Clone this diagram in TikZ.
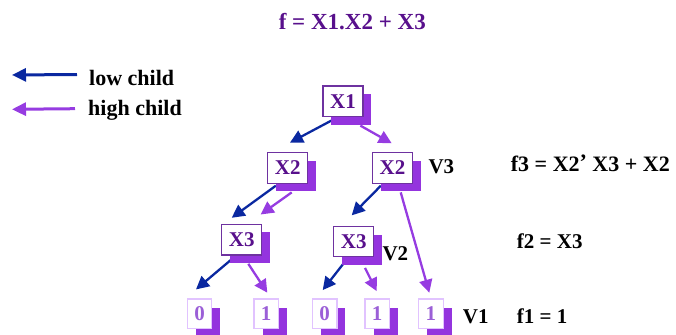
\documentclass[tikz,border=0pt]{standalone}
\usepackage{fontspec}
\setmainfont{Liberation Serif}
\usetikzlibrary{arrows.meta,shadows,calc}
\definecolor{txtpurple}{RGB}{88,16,140}
\definecolor{boxborder}{RGB}{110,50,160}
\definecolor{shadowpurple}{RGB}{148,52,222}
\definecolor{higharrow}{RGB}{150,60,225}
\definecolor{lowarrow}{RGB}{10,40,160}
\definecolor{leafborder}{RGB}{225,195,255}
\definecolor{leaftext}{RGB}{155,95,215}
\pgfdeclarelayer{bg}
\pgfsetlayers{bg,main}
\tikzset{
  varbox/.style={draw=boxborder, line width=1.3pt, fill=white, inner sep=0pt,
    minimum width=40pt, minimum height=30.7pt, text=txtpurple,
    font=\fontsize{21}{22}\selectfont\bfseries,
    drop shadow={shadow xshift=8pt, shadow yshift=-8pt, fill=shadowpurple, opacity=1}},
  leafbox/.style={draw=leafborder, line width=1.3pt, fill=white, inner sep=0pt,
    minimum width=24.4pt, minimum height=29.3pt, text=leaftext,
    font=\fontsize{21}{22}\selectfont\bfseries,
    drop shadow={shadow xshift=8.5pt, shadow yshift=-8.5pt, fill=shadowpurple, opacity=1}},
  lbl/.style={anchor=base west, inner sep=0pt, text=black, font=\fontsize{21}{22}\selectfont\bfseries},
  lowedge/.style={draw=lowarrow, line width=2.3pt, -{Triangle[length=13pt,width=13pt]}},
  highedge/.style={draw=higharrow, line width=2.3pt, -{Triangle[length=13pt,width=13pt]}},
  legendline/.style={line width=3pt, -{Triangle[length=14pt,width=13pt]}},
}
\begin{document}
\begin{tikzpicture}[x=1pt,y=-1pt]
\useasboundingbox (0,0) rectangle (676,334);
% title
\node[anchor=base, inner sep=0pt, text=txtpurple, font=\fontsize{23}{24}\selectfont\bfseries] (title) at (352.3,29.3) {f = X1.X2 + X3};
% legend
\node[lbl, font=\fontsize{22}{24}\selectfont\bfseries] (lowlbl) at (89,85) {low child};
\node[lbl, font=\fontsize{22}{24}\selectfont\bfseries] (highlbl) at (88,115) {high child};
\coordinate (lowtail) at (77,74.5);
\coordinate (lowtip) at (12,75);
\coordinate (hightail) at (75,108.7);
\coordinate (hightip) at (12,109.3);
\draw[lowedge, legendline] (lowtail) -- (lowtip);
\draw[highedge, legendline] (hightail) -- (hightip);
% nodes
\node[varbox] (X1) at (343,101.3) {X1};
\node[varbox] (X2L) at (287.8,168) {X2};
\node[varbox] (X2R) at (392.5,168) {X2};
\node[varbox] (X3L) at (241.7,239.5) {X3};
\node[varbox, minimum height=30pt] (X3R) at (353.7,241.7) {X3};
\node[leafbox] (L0a) at (199.5,313.7) {0};
\node[leafbox] (L1a) at (266.2,313.7) {1};
\node[leafbox] (L0b) at (324.7,313.7) {0};
\node[leafbox] (L1b) at (377.2,313.7) {1};
\node[leafbox, minimum width=25pt] (L1c) at (430.8,313.7) {1};
% edges (behind the boxes)
\begin{pgfonlayer}{bg}
\draw[lowedge] ($(X1.south west)+(9,3.3)$) -- ($(X2L.north)+(2.2,-9.4)$);
\draw[highedge] ($(X1.south east)+(-3.3,8.3)$) -- ($(X2R.north)+(-0.8,-8.7)$);
\draw[lowedge] ($(X2L.south west)+(8.7,1.7)$) -- ($(X3L.north)+(-10,-5.7)$);
\draw[highedge] ($(X2L.south)+(3.9,8.4)$) -- ($(X3L.north east)+(-1.7,-9)$);
\draw[lowedge] ($(X2R.south west)+(9,1.7)$) -- ($(X3R.north)+(-2,-10.7)$);
\draw[highedge] ($(X2R.south)+(8.2,8.4)$) -- ($(L1c.north)+(-1.5,-5.7)$);
\draw[lowedge] ($(X3L.south west)+(10,4.3)$) -- ($(L0a.north)+(-3.5,-9)$);
\draw[highedge] ($(X3L.south)+(6.6,8.3)$) -- ($(L1a.north)+(1.1,-5.7)$);
\draw[lowedge] ($(X3R.south west)+(12.7,3.3)$) -- ($(L0b.north)+(-2,-8.3)$);
\draw[highedge] ($(X3R.south)+(11.3,10.6)$) -- ($(L1b.north)+(-0.5,-7.3)$);
\end{pgfonlayer}
% side labels
\node[lbl] (V3) at (428.3,173.3) {V3};
\node[lbl] (V2) at (382.3,260) {V2};
\node[lbl] (V1) at (462.7,323.3) {V1};
\node[lbl, font=\fontsize{22}{24}\selectfont\bfseries] (f3) at (510.7,171.7) {f3 = X2\raisebox{2pt}{\char"27} X3 + X2};
\node[lbl] (f2) at (516.7,248.3) {f2 = X3};
\node[lbl] (f1) at (516.7,323.3) {f1 = 1};
\end{tikzpicture}
\end{document}
